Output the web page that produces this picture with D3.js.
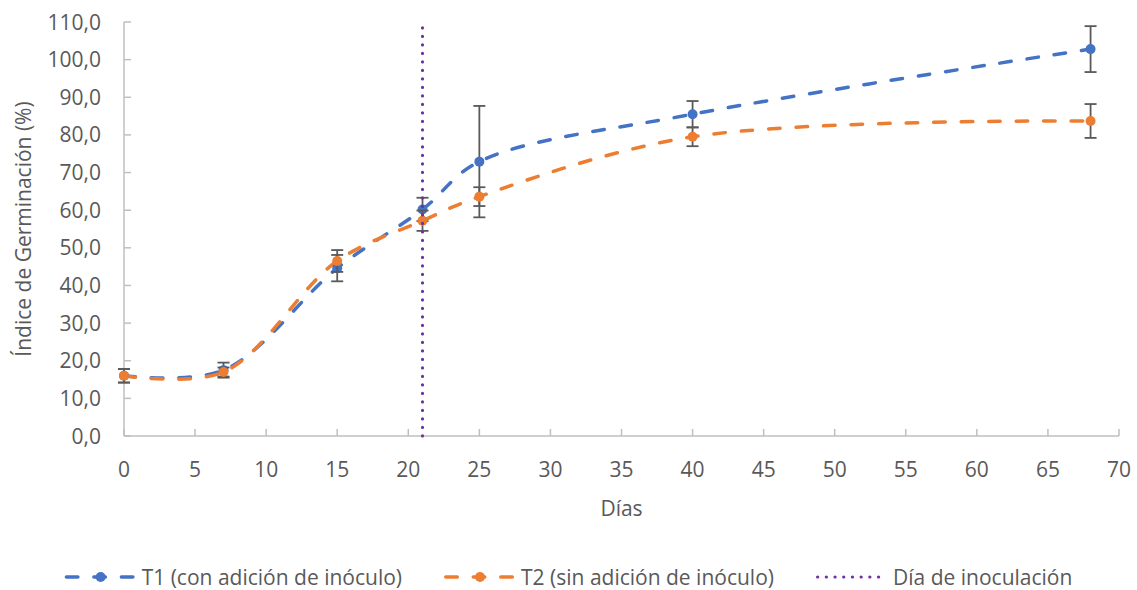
<!DOCTYPE html>
<html>
<head>
<meta charset="utf-8">
<script src="https://cdn.jsdelivr.net/npm/d3@7"></script>
<style>
  body { margin: 0; background: #fff; }
  text { font-family: "Open Sans", "Noto Sans", sans-serif; fill: #595959; }
</style>
</head>
<body>
<script>
// data
var dias = [0, 7, 15, 21, 25, 40, 68];
var t1 = [16.0, 17.5, 44.6, 60.2, 72.9, 85.5, 102.8];
var t1Err = [1.8, 2.0, 3.5, 3.1, 14.8, 3.5, 6.1];
var t2 = [16.0, 17.0, 46.5, 57.2, 63.6, 79.5, 83.7];
var t2Err = [1.8, 1.2, 2.9, 2.7, 2.5, 2.5, 4.5];
var diaInoculacion = 21;

var xTicks = d3.range(0, 71, 5);
var yTicks = d3.range(0, 111, 10);
var nombres = ["T1 (con adición de inóculo)", "T2 (sin adición de inóculo)", "Día de inoculación"];
var colores = ["#4472C4", "#ED7D31", "#7030A0"];

var width = 1137, height = 590;
var svg = d3.select("body").append("svg").attr("width", width).attr("height", height);

var x = d3.scaleLinear().domain([0, 70]).range([124, 1119]);
var y = d3.scaleLinear().domain([0, 110]).range([436, 22]);

// axes
var axisColor = "#bfbfbf";
svg.append("line").attr("x1", x(0)).attr("x2", x(70)).attr("y1", y(0)).attr("y2", y(0))
    .attr("stroke", axisColor).attr("stroke-width", 1.5);
svg.append("line").attr("x1", x(0)).attr("x2", x(0)).attr("y1", y(0)).attr("y2", y(110))
    .attr("stroke", axisColor).attr("stroke-width", 1.5);

svg.selectAll(".xtick").data(xTicks).enter().append("line")
    .attr("x1", function(d) { return x(d); }).attr("x2", function(d) { return x(d); })
    .attr("y1", y(0)).attr("y2", y(0) - 7)
    .attr("stroke", axisColor).attr("stroke-width", 1.5);
svg.selectAll(".ytick").data(yTicks).enter().append("line")
    .attr("x1", x(0)).attr("x2", x(0) + 7)
    .attr("y1", function(d) { return y(d); }).attr("y2", function(d) { return y(d); })
    .attr("stroke", axisColor).attr("stroke-width", 1.5);

svg.selectAll(".xlab").data(xTicks).enter().append("text")
    .attr("x", function(d) { return x(d); }).attr("y", 477)
    .attr("text-anchor", "middle").attr("font-size", 21)
    .text(function(d) { return d; });
svg.selectAll(".ylab").data(yTicks).enter().append("text")
    .attr("x", 101).attr("y", function(d) { return y(d); })
    .attr("dy", "0.36em")
    .attr("text-anchor", "end").attr("font-size", 21)
    .text(function(d) { return d.toFixed(1).replace(".", ","); });

svg.append("text").attr("x", x(35)).attr("y", 516).attr("text-anchor", "middle")
    .attr("font-size", 21).text("Días");
svg.append("text").attr("transform", "translate(31," + y(55) + ") rotate(-90)")
    .attr("text-anchor", "middle").attr("font-size", 21).text("Índice de Germinación (%)");

// series (smoothed like the spreadsheet)
var line = d3.line()
    .x(function(d) { return x(d[0]); })
    .y(function(d) { return y(d[1]); })
    .curve(d3.curveCatmullRom.alpha(0.5));

var series = [
    { vals: t1, err: t1Err, color: colores[0] },
    { vals: t2, err: t2Err, color: colores[1] }
];

series.forEach(function(s) {
    var pts = dias.map(function(d, i) { return [d, s.vals[i]]; });
    svg.append("path").attr("d", line(pts)).attr("fill", "none")
        .attr("stroke", s.color).attr("stroke-width", 3.5)
        .attr("stroke-dasharray", "11.5,16").attr("stroke-linecap", "round");
});

series.forEach(function(s) {
    var g = svg.append("g");
    dias.forEach(function(d, i) {
        var lo = y(s.vals[i] - s.err[i]), hi = y(s.vals[i] + s.err[i]), cx = x(d);
        g.append("line").attr("x1", cx).attr("x2", cx).attr("y1", lo).attr("y2", hi)
            .attr("stroke", "#595959").attr("stroke-width", 1.8);
        [lo, hi].forEach(function(yy) {
            g.append("line").attr("x1", cx - 6).attr("x2", cx + 6).attr("y1", yy).attr("y2", yy)
                .attr("stroke", "#595959").attr("stroke-width", 1.8);
        });
    });
    g.selectAll("circle").data(dias).enter().append("circle")
        .attr("cx", function(d) { return x(d); })
        .attr("cy", function(d, i) { return y(s.vals[i]); })
        .attr("r", 5).attr("fill", s.color);
});

// inoculation day
svg.append("line").attr("x1", x(diaInoculacion)).attr("x2", x(diaInoculacion))
    .attr("y1", y(0)).attr("y2", y(110))
    .attr("stroke", colores[2]).attr("stroke-width", 3.2)
    .attr("stroke-dasharray", "0.1,8.4").attr("stroke-linecap", "round");

// legend
var leg = svg.append("g");
var lx = 0;
nombres.forEach(function(n, i) {
    var g = leg.append("g").attr("transform", "translate(" + lx + ",0)");
    if (i < 2) {
        g.append("line").attr("x1", 0).attr("x2", 70).attr("y1", 0).attr("y2", 0)
            .attr("stroke", colores[i]).attr("stroke-width", 3.5)
            .attr("stroke-dasharray", "11.5,16").attr("stroke-linecap", "round")
            .attr("transform", "translate(1.75,0)");
        g.append("circle").attr("cx", 36).attr("cy", 0).attr("r", 5).attr("fill", colores[i]);
    } else {
        g.append("line").attr("x1", 1.6).attr("x2", 70).attr("y1", 0).attr("y2", 0)
            .attr("stroke", colores[i]).attr("stroke-width", 3.2)
            .attr("stroke-dasharray", "0.1,8.6").attr("stroke-linecap", "round");
    }
    var t = g.append("text").attr("x", 77).attr("y", 0).attr("dy", "0.36em")
        .attr("font-size", 21).text(n);
    lx += 77 + t.node().getComputedTextLength() + 42;
});
var total = lx - 42;
leg.attr("transform", "translate(" + ((width - total) / 2) + ",577)");
</script>
</body>
</html>
